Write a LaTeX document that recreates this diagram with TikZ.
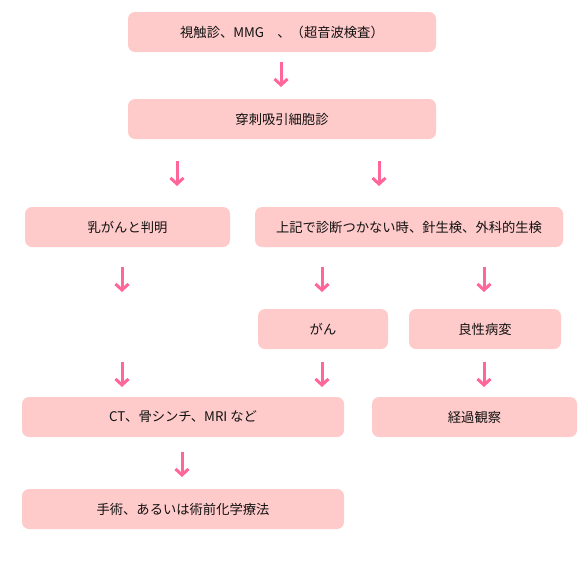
\documentclass[tikz,border=0pt]{standalone}
\usepackage{fontspec}
\setmainfont{Noto Sans CJK JP}
\usetikzlibrary{arrows.meta}
\definecolor{boxpink}{HTML}{FFCACA}
\definecolor{arrowpink}{HTML}{FF6699}
\definecolor{textdark}{HTML}{111111}
\begin{document}
\begin{tikzpicture}[x=1pt,y=-1pt,
  flowbox/.style={fill=boxpink, draw=none, rounded corners=7pt, font=\fontsize{13.3}{15}\selectfont, text=textdark, minimum height=40pt, inner sep=0pt, anchor=center},
  downarr/.style={draw=arrowpink, line width=3pt, -{Straight Barb[length=6pt,width=13pt]}}]
\useasboundingbox (0,0) rectangle (588,565);
\node[flowbox, minimum width=308pt] (b1) at (282,32) {視触診、MMG　、（超音波検査）};
\node[flowbox, minimum width=308pt] (b2) at (282,119) {穿刺吸引細胞診};
\node[flowbox, minimum width=205pt] (b3) at (127.5,227) {乳がんと判明};
\node[flowbox, minimum width=308pt] (b4) at (409,227) {上記で診断つかない時、針生検、外科的生検};
\node[flowbox, minimum width=130pt] (b5) at (323,329) {がん};
\node[flowbox, minimum width=152pt] (b6) at (485,329) {良性病変};
\node[flowbox, minimum width=322pt] (b7) at (183,417) {CT、骨シンチ、MRI など};
\node[flowbox, minimum width=205pt] (b8) at (474.5,417) {経過観察};
\node[flowbox, minimum width=322pt] (b9) at (183,509) {手術、あるいは術前化学療法};
% arrow endpoints
\coordinate (a1s) at (281,62);  \coordinate (a1e) at (281,87);
\coordinate (a2s) at (177,161); \coordinate (a2e) at (177,186);
\coordinate (a3s) at (379,161); \coordinate (a3e) at (379,186);
\coordinate (a4s) at (122,267); \coordinate (a4e) at (122,292);
\coordinate (a5s) at (322,267); \coordinate (a5e) at (322,292);
\coordinate (a6s) at (484,267); \coordinate (a6e) at (484,292);
\coordinate (a7s) at (122,362); \coordinate (a7e) at (122,387);
\coordinate (a8s) at (322,362); \coordinate (a8e) at (322,387);
\coordinate (a9s) at (484,362); \coordinate (a9e) at (484,387);
\coordinate (a10s) at (182,452); \coordinate (a10e) at (182,477);
\foreach \i in {1,...,10} {\draw[downarr] (a\i s) -- (a\i e);}
\end{tikzpicture}
\end{document}
